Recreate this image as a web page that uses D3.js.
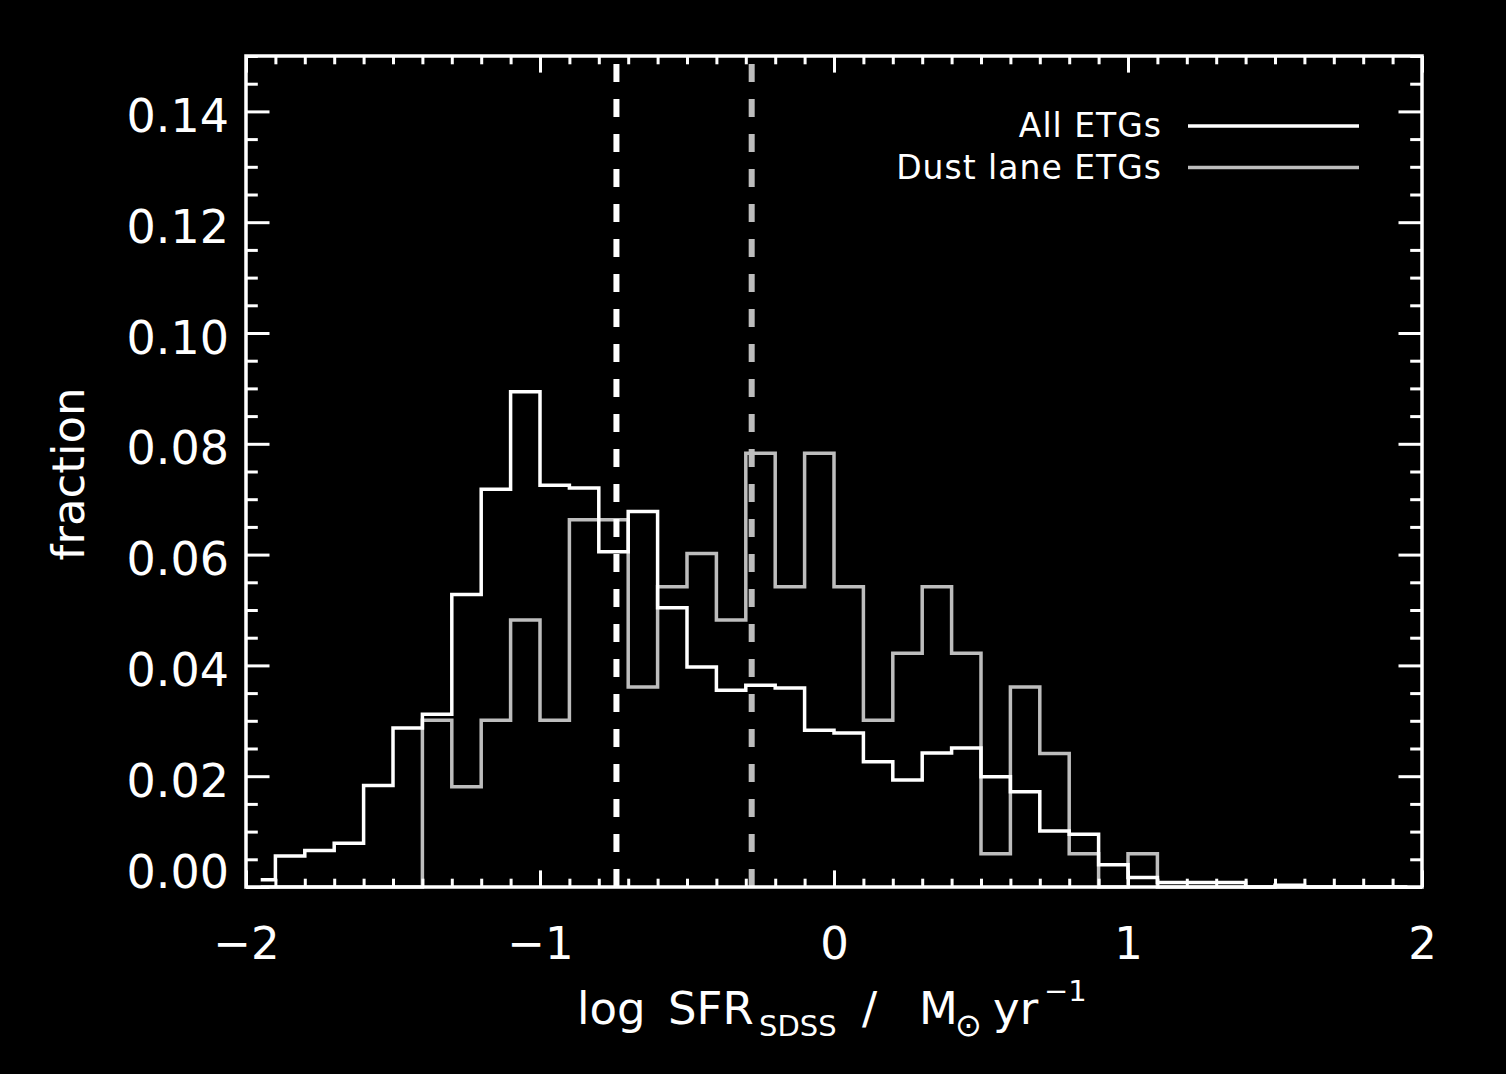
<!DOCTYPE html>
<html>
<head>
<meta charset="utf-8">
<script src="https://cdn.jsdelivr.net/npm/d3@7"></script>
<style>
  html, body { margin: 0; padding: 0; background: #000; }
  svg { display: block; background: #000; }
  text { font-family: "DejaVu Sans", sans-serif; fill: #fff; }
</style>
</head>
<body>
<svg width="1506" height="1074"></svg>
<script>
// histogram bin centres (bin width 0.1 dex)
const binCenters = [
  -1.95, -1.85, -1.75, -1.65, -1.55, -1.45, -1.35, -1.25, -1.15, -1.05,
  -0.95, -0.85, -0.75, -0.65, -0.55, -0.45, -0.35, -0.25, -0.15, -0.05,
   0.05,  0.15,  0.25,  0.35,  0.45,  0.55,  0.65,  0.75,  0.85,  0.95,
   1.05,  1.15,  1.25,  1.35,  1.45,  1.55,  1.65,  1.75,  1.85,  1.95
];

// fraction per bin, all early-type galaxies
const allEtgs = [
  0.0013, 0.0056, 0.0066, 0.0079, 0.0183, 0.0287, 0.0312, 0.0528, 0.0718, 0.0894,
  0.0725, 0.0720, 0.0605, 0.0678, 0.0504, 0.0397, 0.0355, 0.0364, 0.0359, 0.0283,
  0.0278, 0.0226, 0.0193, 0.0242, 0.0251, 0.0199, 0.0172, 0.0101, 0.0095, 0.0040,
  0.0017, 0.0008, 0.0008, 0.0008, 0.0000, 0.0003, 0.0000, 0.0000, 0.0000, 0.0000
];

// fraction per bin, dust lane early-type galaxies
const dustEtgs = [
  0.0000, 0.0000, 0.0000, 0.0000, 0.0000, 0.0000, 0.0301, 0.0181, 0.0301, 0.0482,
  0.0301, 0.0663, 0.0663, 0.0361, 0.0542, 0.0602, 0.0482, 0.0783, 0.0542, 0.0783,
  0.0542, 0.0301, 0.0422, 0.0542, 0.0422, 0.0060, 0.0361, 0.0241, 0.0060, 0.0000,
  0.0060, 0.0000, 0.0000, 0.0000, 0.0000, 0.0000, 0.0000, 0.0000, 0.0000, 0.0000
];

// medians (dashed lines): all ETGs, dust lane ETGs
const medianAll = -0.74;
const medianDust = -0.28;

const seriesNames = ['All ETGs', 'Dust lane ETGs'];

const xMajor = [-2, -1, 0, 1, 2];
const xMinor = d3.range(-20, 21).map(d => d / 10).filter(d => !xMajor.includes(d));
const yMajor = [0, 0.02, 0.04, 0.06, 0.08, 0.10, 0.12, 0.14];
const yMinor = d3.range(0, 31).map(d => d * 0.005).filter(d => Math.round(d * 1000) % 20 !== 0);

const white = '#ffffff';
const grey = '#bdbdbd';

const svg = d3.select('svg');
const margin = {top: 56, right: 84, bottom: 187, left: 246};
const width = +svg.attr('width') - margin.left - margin.right;   // 1176
const height = +svg.attr('height') - margin.top - margin.bottom; // 831

const g = svg.append('g')
  .attr('transform', `translate(${margin.left},${margin.top})`);

const x = d3.scaleLinear().domain([-2, 2]).range([0, width]);
const y = d3.scaleLinear().domain([0, 0.15]).range([height, 0]);

// histograms drawn like IDL psym=10: steps halfway between bin centres
const step = d3.line()
  .x(d => x(d[0]))
  .y(d => y(d[1]))
  .curve(d3.curveStep);

g.append('path')
  .datum(d3.zip(binCenters, dustEtgs))
  .attr('fill', 'none')
  .attr('stroke', grey)
  .attr('stroke-width', 3.5)
  .attr('d', step);

g.append('path')
  .datum(d3.zip(binCenters, allEtgs))
  .attr('fill', 'none')
  .attr('stroke', white)
  .attr('stroke-width', 3.5)
  .attr('d', step);

// median lines, drawn from the bottom up so the dash pattern starts on the axis
[[medianAll, white], [medianDust, grey]].forEach(([m, c]) => {
  g.append('line')
    .attr('x1', x(m)).attr('x2', x(m))
    .attr('y1', y(0)).attr('y2', y(0.15))
    .attr('stroke', c)
    .attr('stroke-width', 6)
    .attr('stroke-dasharray', '18,17');
});

// frame
g.append('rect')
  .attr('width', width)
  .attr('height', height)
  .attr('fill', 'none')
  .attr('stroke', white)
  .attr('stroke-width', 3.5);

// inward ticks on all four sides
function ticks(axis, values, size, transform) {
  const a = g.append('g')
    .attr('transform', transform)
    .call(axis.tickValues(values).tickSize(-size).tickSizeOuter(0).tickFormat(''));
  a.select('.domain').remove();
  a.selectAll('line').attr('stroke', white).attr('stroke-width', 3);
  return a;
}

const xMajLen = 16.6, xMinLen = 8.3, yMajLen = 23.5, yMinLen = 11.8;

ticks(d3.axisBottom(x), xMinor, xMinLen, `translate(0,${height})`);
ticks(d3.axisTop(x), xMinor, xMinLen, 'translate(0,0)');
ticks(d3.axisTop(x), xMajor, xMajLen, 'translate(0,0)');
ticks(d3.axisLeft(y), yMinor, yMinLen, 'translate(0,0)');
ticks(d3.axisRight(y), yMinor, yMinLen, `translate(${width},0)`);
ticks(d3.axisRight(y), yMajor, yMajLen, `translate(${width},0)`);

// labelled axes
const xAxis = g.append('g')
  .attr('transform', `translate(0,${height})`)
  .call(d3.axisBottom(x).tickValues(xMajor).tickSize(-xMajLen).tickSizeOuter(0)
    .tickFormat(d3.format('d')));
xAxis.select('.domain').remove();
xAxis.selectAll('line').attr('stroke', white).attr('stroke-width', 3);
xAxis.selectAll('text')
  .attr('y', 72).attr('dy', null)
  .attr('font-size', 45)
  .attr('font-family', '"DejaVu Sans", sans-serif')
  .attr('fill', white);

const yAxis = g.append('g')
  .call(d3.axisLeft(y).tickValues(yMajor).tickSize(-yMajLen).tickSizeOuter(0)
    .tickPadding(17).tickFormat(d3.format('.2f')));
yAxis.select('.domain').remove();
yAxis.selectAll('line').attr('stroke', white).attr('stroke-width', 3);
yAxis.selectAll('text')
  .attr('dy', null)
  .attr('y', d => d === 0 ? 0 : 20)
  .attr('font-size', 46)
  .attr('font-family', '"DejaVu Sans", sans-serif')
  .attr('fill', white);

// axis titles
svg.append('text')
  .attr('transform', 'translate(84,474) rotate(-90)')
  .attr('text-anchor', 'middle')
  .attr('font-size', 45)
  .text('fraction');

const xt = svg.append('text').attr('y', 1024).attr('font-size', 45);
xt.append('tspan').attr('x', 577).text('log');
xt.append('tspan').attr('x', 668).text('SFR');
xt.append('tspan').attr('x', 759).attr('y', 1036).attr('font-size', 29).text('SDSS');
xt.append('tspan').attr('x', 862).attr('y', 1024).text('/');
xt.append('tspan').attr('x', 919).text('M');
xt.append('tspan').attr('x', 955).attr('y', 1036).attr('font-size', 32).text('\u2299');
xt.append('tspan').attr('x', 993).attr('y', 1024).text('yr');
xt.append('tspan').attr('x', 1044).attr('y', 1001).attr('font-size', 29).text('\u22121');

// legend
const legend = svg.append('g');
seriesNames.forEach((name, i) => {
  const ly = 126 + i * 41.5;
  legend.append('text')
    .attr('x', 1162).attr('y', ly + 11)
    .attr('text-anchor', 'end')
    .attr('font-size', 33)
    .attr('letter-spacing', 1)
    .text(name);
  legend.append('line')
    .attr('x1', 1188).attr('x2', 1359)
    .attr('y1', ly).attr('y2', ly)
    .attr('stroke', i === 0 ? white : grey)
    .attr('stroke-width', 3.5);
});
</script>
</body>
</html>
